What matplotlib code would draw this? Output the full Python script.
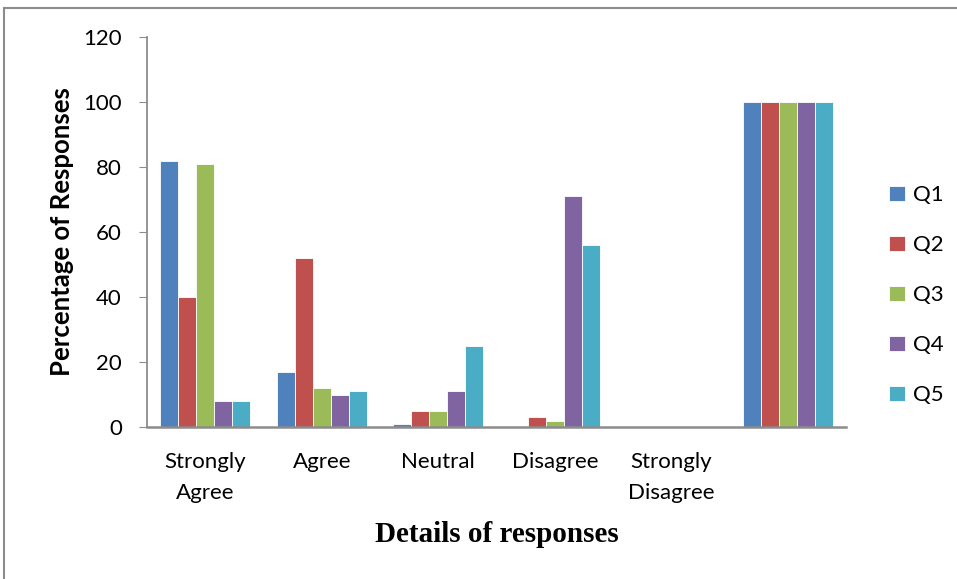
import matplotlib.pyplot as plt
import numpy as np
from matplotlib.lines import Line2D

# Data
categories = ["Strongly\nAgree", "Agree", "Neutral", "Disagree", "Strongly\nDisagree", ""]
series_names = ["Q1", "Q2", "Q3", "Q4", "Q5"]
q1 = [82, 17, 1, 0, 0, 100]
q2 = [40, 52, 5, 3, 0, 100]
q3 = [81, 12, 5, 2, 0, 100]
q4 = [8, 10, 11, 71, 0, 100]
q5 = [8, 11, 25, 56, 0, 100]
series = [q1, q2, q3, q4, q5]
colors = ["#4F81BD", "#C0504D", "#9BBB59", "#8064A2", "#4BACC6"]

fig = plt.figure(figsize=(9.57, 5.79), dpi=100)
ax = fig.add_axes([147 / 957, 1 - 427 / 579, (846 - 147) / 957, (427 - 37) / 579])

# outer chart frame (left and top edges visible)
fig.add_artist(Line2D([4 / 957, 4 / 957], [0, 1 - 8 / 579], color="#8c8c8c", lw=1.5))
fig.add_artist(Line2D([4 / 957, 1], [1 - 8 / 579, 1 - 8 / 579], color="#8c8c8c", lw=1.5))

x = np.arange(len(categories)) + 0.5
w = 0.155
for i, (vals, c, name) in enumerate(zip(series, colors, series_names)):
    ax.bar(x + (i - 2) * w, vals, width=w, color=c, edgecolor="white", linewidth=0.6, label=name)

ax.set_xlim(0, len(categories))
ax.set_ylim(0, 120)
ax.set_yticks(range(0, 121, 20))
ax.set_xticks(x)
ax.set_xticklabels(categories, fontsize=16, family="Lato", linespacing=1.7)
for lab in ax.get_yticklabels():
    lab.set_fontsize(16)
    lab.set_family("Lato")
ax.tick_params(axis="x", length=0, pad=18)
ax.tick_params(axis="y", length=6, color="#8c8c8c", pad=12)

for s in ["top", "right"]:
    ax.spines[s].set_visible(False)
ax.spines["left"].set_color("#8c8c8c")
ax.spines["bottom"].set_color("#8c8c8c")
ax.spines["left"].set_linewidth(1.3)
ax.spines["bottom"].set_linewidth(1.8)

ax.set_ylabel("Percentage of Responses", fontsize=18.5, fontweight="bold", family="Lato")
ax.yaxis.set_label_coords(-0.104, 0.5)
fig.text(497 / 957, 1 - 535 / 579, "Details of responses", fontsize=21, fontweight="bold",
         family="Liberation Serif", ha="center", va="center")

ax.legend(loc="center left", bbox_to_anchor=(1.0615, 0.338), frameon=False,
          borderaxespad=0, borderpad=0,
          handlelength=0.7, handleheight=0.7, labelspacing=1.35, handletextpad=0.4,
          prop={"family": "Lato", "size": 16})

fig.savefig("out.png", dpi=100)
